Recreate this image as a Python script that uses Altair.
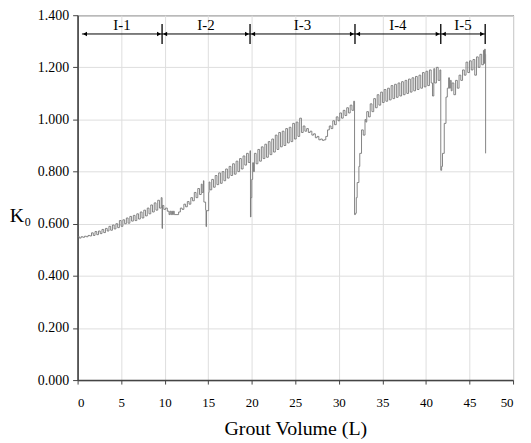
import altair as alt
import pandas as pd

# ---- K0 series, per injection stage ----
stage1_x = [0.0, 0.2, 0.4, 0.6, 0.8, 1.0, 1.2, 1.4, 1.6, 1.8, 2.0, 2.2, 2.4, 2.6, 2.8, 3.0,
            3.2, 3.4, 3.6, 3.8, 4.0, 4.2, 4.4, 4.6, 4.8, 5.0, 5.2, 5.4, 5.6, 5.8, 6.0, 6.2,
            6.4, 6.6, 6.8, 7.0, 7.2, 7.4, 7.6, 7.8, 8.0, 8.2, 8.4, 8.6, 8.8, 9.0, 9.2, 9.4, 9.6]
stage1_y = [0.550, 0.545, 0.550, 0.548, 0.552, 0.550, 0.555, 0.553, 0.565, 0.555, 0.570, 0.558,
            0.572, 0.562, 0.578, 0.566, 0.582, 0.572, 0.590, 0.575, 0.595, 0.580, 0.600, 0.585,
            0.612, 0.590, 0.615, 0.600, 0.622, 0.602, 0.628, 0.610, 0.632, 0.612, 0.638, 0.618,
            0.645, 0.622, 0.652, 0.630, 0.660, 0.638, 0.672, 0.645, 0.680, 0.652, 0.690, 0.660, 0.700]

stage2_x = [9.7, 9.75, 9.9, 10.1, 10.3, 10.5, 10.6, 10.7, 10.8, 10.9, 11.0, 11.1, 11.6, 11.8,
            12.0, 12.2, 12.4, 12.6, 12.8, 13.0, 13.2, 13.4, 13.6, 13.8, 14.0, 14.2, 14.3, 14.45,
            14.5, 14.7, 14.75, 14.8, 15.05, 15.1, 15.2, 15.4, 15.6, 15.8, 16.0, 16.2, 16.4, 16.6,
            16.8, 17.0, 17.2, 17.4, 17.6, 17.8, 18.0, 18.2, 18.4, 18.6, 18.8, 19.0, 19.2, 19.4,
            19.6, 19.8]
stage2_y = [0.582, 0.670, 0.655, 0.660, 0.648, 0.635, 0.648, 0.635, 0.648, 0.635, 0.648, 0.635,
            0.645, 0.660, 0.655, 0.675, 0.665, 0.685, 0.675, 0.700, 0.688, 0.720, 0.700, 0.735,
            0.712, 0.752, 0.720, 0.765, 0.683, 0.653, 0.589, 0.650, 0.720, 0.760, 0.730, 0.770,
            0.740, 0.785, 0.750, 0.795, 0.755, 0.800, 0.765, 0.810, 0.775, 0.820, 0.785, 0.830,
            0.790, 0.840, 0.800, 0.850, 0.810, 0.860, 0.825, 0.870, 0.835, 0.880]

stage3_x = [19.85, 19.9, 20.0, 20.1, 20.2, 20.3, 20.5, 20.7, 20.9, 21.1, 21.3, 21.5, 21.7, 21.9,
            22.1, 22.3, 22.5, 22.7, 22.9, 23.1, 23.3, 23.5, 23.7, 23.9, 24.1, 24.3, 24.5, 24.7,
            24.9, 25.1, 25.3, 25.5, 25.7, 25.9, 26.1, 26.3, 26.5, 26.7, 26.9, 27.1, 27.3, 27.5,
            27.7, 27.9, 28.1, 28.3, 28.5, 28.7, 28.9, 29.1, 29.3, 29.5, 29.7, 29.9, 30.1, 30.3,
            30.5, 30.7, 30.9, 31.1, 31.3, 31.5, 31.7]
stage3_y = [0.626, 0.700, 0.770, 0.834, 0.800, 0.870, 0.830, 0.885, 0.840, 0.895, 0.850, 0.905,
            0.855, 0.915, 0.865, 0.925, 0.875, 0.940, 0.885, 0.950, 0.895, 0.955, 0.900, 0.965,
            0.910, 0.970, 0.915, 0.985, 0.925, 0.990, 0.935, 1.005, 0.950, 0.975, 0.955, 0.965,
            0.950, 0.955, 0.940, 0.945, 0.930, 0.935, 0.922, 0.925, 0.920, 0.922, 0.935, 0.960,
            0.975, 0.965, 0.995, 0.980, 1.010, 0.995, 1.025, 1.005, 1.035, 1.015, 1.045, 1.025,
            1.055, 1.035, 1.070]

stage4_x = [31.8, 31.9, 32.0, 32.1, 32.3, 32.4, 32.6, 32.8, 33.0, 33.1, 33.2, 33.4, 33.6, 33.8,
            34.0, 34.2, 34.4, 34.6, 34.8, 35.0, 35.2, 35.4, 35.6, 35.8, 36.0, 36.2, 36.4, 36.6,
            36.8, 37.0, 37.2, 37.4, 37.6, 37.8, 38.0, 38.2, 38.4, 38.6, 38.8, 39.0, 39.2, 39.4,
            39.6, 39.8, 40.0, 40.2, 40.4, 40.6, 40.75, 40.9, 41.0, 41.2, 41.4, 41.6]
stage4_y = [0.635, 0.640, 0.700, 0.758, 0.820, 0.870, 0.960, 0.940, 1.000, 0.990, 1.030, 1.010,
            1.060, 1.030, 1.080, 1.045, 1.095, 1.055, 1.105, 1.065, 1.115, 1.070, 1.120, 1.075,
            1.130, 1.080, 1.135, 1.085, 1.140, 1.090, 1.145, 1.095, 1.150, 1.100, 1.155, 1.105,
            1.160, 1.110, 1.165, 1.115, 1.170, 1.120, 1.180, 1.125, 1.185, 1.130, 1.190, 1.140,
            1.090, 1.195, 1.140, 1.200, 1.150, 1.190]

stage5_x = [41.7, 41.8, 41.9, 42.1, 42.3, 42.45, 42.6, 42.7, 42.8, 42.9, 43.0, 43.2, 43.4, 43.6,
            43.8, 44.0, 44.2, 44.4, 44.6, 44.8, 45.0, 45.2, 45.4, 45.6, 45.8, 46.0, 46.2, 46.4,
            46.6, 46.7, 46.75, 46.8, 46.85]
stage5_y = [0.805, 0.820, 0.870, 0.985, 1.086, 1.120, 1.160, 1.120, 1.150, 1.110, 1.140, 1.095,
            1.150, 1.120, 1.170, 1.150, 1.190, 1.170, 1.220, 1.180, 1.225, 1.190, 1.230, 1.170,
            1.240, 1.200, 1.250, 1.210, 1.265, 1.215, 1.270, 1.250, 0.870]

# ---- stage annotation ----
stage_labels = ["I-1", "I-2", "I-3", "I-4", "I-5"]
stage_start = [0.5, 9.7, 19.8, 31.85, 41.7]
stage_end = [9.7, 19.8, 31.85, 41.7, 46.8]
bar_level = 1.328
label_level = 1.362
tick_low, tick_high = 1.29, 1.366

xs = stage1_x + stage2_x + stage3_x + stage4_x + stage5_x
ys = stage1_y + stage2_y + stage3_y + stage4_y + stage5_y
series = pd.DataFrame({"x": xs, "y": ys, "i": range(len(xs))})

stages = pd.DataFrame({
    "label": stage_labels,
    "start": stage_start,
    "end": stage_end,
})
stages["mid"] = (stages["start"] + stages["end"]) / 2
stages["lvl"] = bar_level
stages["lbl"] = label_level
stages["head_r"] = stages["end"] - 0.35
stages["head_l"] = stages["start"] + 0.35

seps = pd.DataFrame({"x": stage_end, "lo": tick_low, "hi": tick_high})

FONT = "Liberation Serif"

xscale = alt.Scale(domain=[0, 50], nice=False)
yscale = alt.Scale(domain=[0, 1.4], nice=False)

common = dict(labelFont=FONT, titleFont=FONT, titleFontWeight="normal",
              gridColor="#dedede", domainColor="#444444", domainWidth=1.5,
              tickColor="#444444", labelColor="black", titleColor="black")

line = alt.Chart(series).mark_line(color="#777777", strokeWidth=0.9,
                                   interpolate="step-after").encode(
    x=alt.X("x:Q", scale=xscale,
            axis=alt.Axis(title="Grout Volume (L)", values=list(range(0, 51, 5)),
                          format="d", labelFontSize=13, titleFontSize=20,
                          tickSize=4, labelPadding=13,
                          titleBaseline="alphabetic", titleY=55, **common)),
    y=alt.Y("y:Q", scale=yscale,
            axis=alt.Axis(title="K₀", values=[round(v * 0.1, 1) for v in range(15)],
                          format=".3f", labelFontSize=14, titleFontSize=20,
                          tickSize=5, labelPadding=4,
                          titleAngle=0, titleX=-58, titleY=201, titleAlign="center",
                          titleBaseline="middle", **common)),
    order="i:Q",
)

shafts = alt.Chart(stages).mark_rule(color="black", strokeWidth=1).encode(
    x="start:Q", x2="end:Q", y="lvl:Q")

separators = alt.Chart(seps).mark_rule(color="black", strokeWidth=1.3).encode(
    x="x:Q", y="lo:Q", y2="hi:Q")

heads_r = alt.Chart(stages).mark_point(shape="triangle-right", filled=True, color="black",
                                       size=22, opacity=1).encode(x="head_r:Q", y="lvl:Q")
heads_l = alt.Chart(stages).mark_point(shape="triangle-left", filled=True, color="black",
                                       size=22, opacity=1).encode(x="head_l:Q", y="lvl:Q")

labels = alt.Chart(stages).mark_text(font=FONT, fontSize=15, color="black",
                                     baseline="middle", align="center").encode(
    x="mid:Q", y="lbl:Q", text="label:N")

chart = alt.layer(line, shafts, separators, heads_r, heads_l, labels).properties(
    width=438, height=367,
    autosize=alt.AutoSizeParams(type="none"),
    padding={"left": 70, "top": 6, "right": 10, "bottom": 60},
).configure_view(stroke="black", strokeWidth=1)

chart.save("out.html", embed_options={"renderer": "svg", "actions": False})
